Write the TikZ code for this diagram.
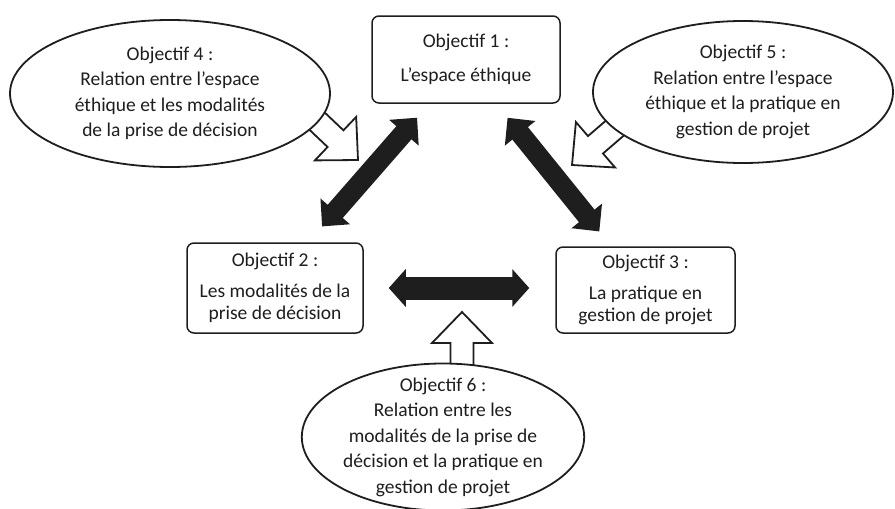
\documentclass[tikz,border=0pt]{standalone}
\usepackage{fontspec}
\setmainfont{Carlito}
\usetikzlibrary{shapes.geometric, arrows.meta, positioning, calc, backgrounds}
\definecolor{inkblack}{RGB}{30,30,30}

\begin{document}
\begin{tikzpicture}[
        x=1pt, y=-1pt,
        goal/.style={rectangle, draw=inkblack, line width=1.5pt, rounded corners=7pt, fill=white, text=inkblack, align=center, inner sep=0pt, font=\fontsize{19.5}{22}\selectfont},
        link/.style={ellipse, draw=inkblack, line width=1.8pt, fill=white, text=inkblack, align=center, inner sep=0pt, font=\fontsize{19.5}{25.5}\selectfont},
        bothway/.style={draw=inkblack, line width=20pt, {Triangle[width=38pt,length=20pt]}-{Triangle[width=38pt,length=20pt]}},
        hollow/.style={draw=inkblack, line width=1.8pt, fill=white, line join=miter,
            to path={($(\tikztotarget)!31pt!(\tikztostart)$) coordinate (hb)
                ($(\tikztostart)!11.5pt!90:(\tikztotarget)$) -- ($(hb)!11.5pt!90:(\tikztotarget)$)
                -- ($(hb)!30pt!90:(\tikztotarget)$) -- (\tikztotarget)
                -- ($(hb)!30pt!-90:(\tikztotarget)$) -- ($(hb)!11.5pt!-90:(\tikztotarget)$)
                -- ($(\tikztostart)!11.5pt!-90:(\tikztotarget)$)}}
    ]
        \useasboundingbox (0,0) rectangle (895,509);

        % the three objectives
        \node[goal, minimum width=188pt, minimum height=87pt] (o1) at (466,59.5) {Objectif 1 :\\[12pt]L’espace éthique};
        \node[goal, minimum width=176pt, minimum height=90pt] (o2) at (275,288) {Objectif 2 :\\[9pt]Les modalités de la\\prise de décision};
        \node[goal, minimum width=179pt, minimum height=86pt] (o3) at (645.5,290) {Objectif 3 :\\[9pt]La pratique en\\gestion de projet};

        % the relations
        \node[link, minimum width=320pt, minimum height=147pt] (o4) at (170,93.5) {Objectif 4 :\\Relation entre l’espace\\éthique et les modalités\\de la prise de décision};
        \node[link, minimum width=300pt, minimum height=142pt] (o5) at (743,92) {Objectif 5 :\\Relation entre l’espace\\éthique et la pratique en\\gestion de projet};
        \node[link, minimum width=280pt, minimum height=147pt, inner ysep=-12pt] (o6) at (443,437) {Objectif 6 :\\Relation entre les\\modalités de la prise de\\décision et la pratique en\\gestion de projet};

        \coordinate (tip4) at (358,160);
        \coordinate (tip5) at (572,165);
        \coordinate (tip6) at (462,312);

        \draw[bothway, shorten <=18.5pt, shorten >=21pt] ([xshift=58pt]o1.south west) -- ([xshift=122pt]o2.north west);
        \draw[bothway, shorten <=18pt, shorten >=19pt] ([xshift=125pt]o1.south west) -- ([xshift=56pt]o3.north west);
        \draw[bothway, line width=23pt, {Triangle[width=37pt,length=17pt]}-{Triangle[width=37pt,length=17pt]}, shorten <=25pt, shorten >=26pt] (o2.east) -- (o2.east -| o3.west);

        \begin{scope}[on background layer]
            \draw[hollow] ($(tip4)!68pt!(o4.-11)$) to (tip4);
            \draw[hollow] ($(tip5)!68pt!(o5.196)$) to (tip5);
            \draw[hollow] (tip6 |- o6.center) to (tip6);
        \end{scope}
    \end{tikzpicture}
\end{document}
